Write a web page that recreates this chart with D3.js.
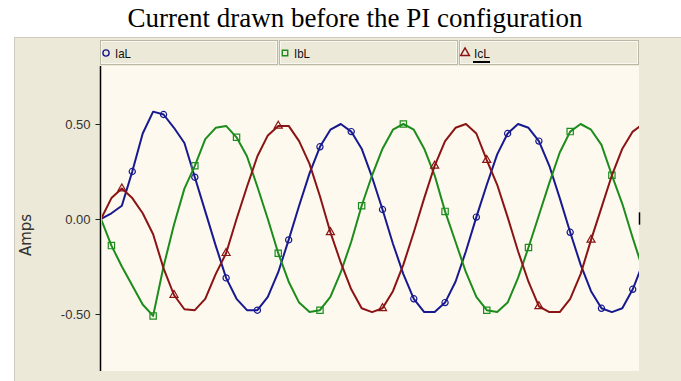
<!DOCTYPE html>
<html>
<head>
<meta charset="utf-8">
<script src="https://cdn.jsdelivr.net/npm/d3@7"></script>
<style>
  body { margin: 0; background: #ffffff; }
  svg { display: block; }
</style>
</head>
<body>
<svg id="chart" width="681" height="381"></svg>
<script>
// Phase currents, one value per sample (Amps)
const seriesNames = ["IaL", "IbL", "IcL"];
const iaL = [0, 0.03, 0.07, 0.25, 0.45, 0.565, 0.55, 0.48, 0.40, 0.22,
             0.04, -0.14, -0.31, -0.42, -0.48, -0.48, -0.41, -0.28, -0.11, 0.07,
             0.24, 0.38, 0.47, 0.50, 0.46, 0.37, 0.22, 0.05, -0.13, -0.29,
             -0.42, -0.49, -0.49, -0.44, -0.33, -0.17, 0.01, 0.18, 0.34, 0.45,
             0.50, 0.48, 0.41, 0.28, 0.11, -0.07, -0.24, -0.38, -0.47, -0.49,
             -0.47, -0.37, -0.23];
const ibL = [0, -0.14, -0.25, -0.35, -0.45, -0.51, -0.25, -0.03, 0.16, 0.28,
             0.42, 0.48, 0.49, 0.43, 0.33, 0.17, 0.00, -0.18, -0.33, -0.44,
             -0.49, -0.48, -0.41, -0.28, -0.12, 0.07, 0.23, 0.37, 0.47, 0.50,
             0.47, 0.37, 0.23, 0.04, -0.12, -0.28, -0.41, -0.48, -0.49, -0.44,
             -0.31, -0.15, 0.02, 0.19, 0.35, 0.46, 0.50, 0.47, 0.39, 0.23,
             0.08, -0.10, -0.27];
const icL = [0, 0.11, 0.16, 0.11, 0.03, -0.08, -0.26, -0.40, -0.475, -0.48,
             -0.42, -0.29, -0.18, 0.00, 0.17, 0.33, 0.44, 0.49, 0.49, 0.41,
             0.29, 0.12, -0.07, -0.23, -0.37, -0.47, -0.49, -0.47, -0.38, -0.24,
             -0.07, 0.11, 0.28, 0.41, 0.48, 0.50, 0.45, 0.31, 0.18, 0.01,
             -0.17, -0.33, -0.46, -0.49, -0.49, -0.42, -0.29, -0.11, 0.06, 0.23,
             0.37, 0.46, 0.50];
const yTickValues = [-0.5, 0, 0.5];
const yTickLabels = ["-0.50", "0.00", "0.50"];
const chartTitle = "Current drawn before the PI configuration";
const yAxisTitle = "Amps";

const series = [
  { name: seriesNames[0], values: iaL, color: "#17198f", symbol: d3.symbolCircle,   size: 30, every: 3, first: 3 },
  { name: seriesNames[1], values: ibL, color: "#1c8c1c", symbol: d3.symbolSquare,   size: 40, every: 4, first: 1 },
  { name: seriesNames[2], values: icL, color: "#8a1414", symbol: d3.symbolTriangle, size: 28, every: 5, first: 2 }
];

const svg = d3.select("#chart");
const plot = { left: 101, right: 639, top: 66, bottom: 371 };

const x = d3.scaleLinear().domain([0, 51.6]).range([plot.left, plot.right]);
const y = d3.scaleLinear().domain([-0.8, 0.8]).range([371, 67]);

// Title
svg.append("text")
  .attr("x", 355).attr("y", 27)
  .attr("text-anchor", "middle")
  .attr("font-family", "'Liberation Serif', 'Times New Roman', serif")
  .attr("font-size", 27)
  .attr("fill", "#000")
  .text(chartTitle);

// Window panel
svg.append("rect")
  .attr("x", 14.5).attr("y", 37.5)
  .attr("width", 681 - 14).attr("height", 381 - 37)
  .attr("fill", "#ece9d8")
  .attr("stroke", "#cfccbf");

// Plot background
svg.append("rect")
  .attr("x", plot.left).attr("y", plot.top)
  .attr("width", plot.right - plot.left).attr("height", plot.bottom - plot.top)
  .attr("fill", "#fdf9ef");

// Legend header boxes
const legendBoxes = [
  { left: 100, right: 277 },
  { left: 279, right: 457 },
  { left: 459, right: 638 }
];
const legend = svg.append("g").attr("class", "legend");
series.forEach((s, i) => {
  const b = legendBoxes[i];
  const g = legend.append("g");
  g.append("rect")
    .attr("x", b.left + 0.5).attr("y", 40.5)
    .attr("width", b.right - b.left).attr("height", 24)
    .attr("fill", "#ece9d8").attr("stroke", "#bcb8a6");
  g.append("rect")
    .attr("x", b.left + 1.5).attr("y", 41.5)
    .attr("width", b.right - b.left - 2).attr("height", 22)
    .attr("fill", "none").attr("stroke", "#f8f7f0");
  g.append("path")
    .attr("transform", `translate(${b.left + 6},${53})`)
    .attr("d", d3.symbol().type(s.symbol).size(s.symbol === d3.symbolTriangle ? 34 : 30)())
    .attr("fill", "none")
    .attr("stroke", s.color)
    .attr("stroke-width", 1.4);
  g.append("text")
    .attr("x", b.left + 15).attr("y", 58)
    .attr("font-family", "'Liberation Sans', Arial, sans-serif")
    .attr("font-size", 13)
    .attr("textLength", 16)
    .attr("lengthAdjust", "spacingAndGlyphs")
    .attr("fill", "#111")
    .text(s.name);
  if (i === 2) {
    g.append("line")
      .attr("x1", b.left + 14).attr("x2", b.left + 31)
      .attr("y1", 62).attr("y2", 62)
      .attr("stroke", "#000").attr("stroke-width", 2);
  }
});

// Y axis
const yAxis = d3.axisLeft(y)
  .tickValues(yTickValues)
  .tickFormat((d, i) => yTickLabels[i])
  .tickSize(5)
  .tickSizeOuter(0)
  .tickPadding(5);
const ag = svg.append("g")
  .attr("transform", `translate(${plot.left - 0.5},0)`)
  .call(yAxis);
ag.select(".domain")
  .attr("d", `M0,${plot.top}V${plot.bottom}`)
  .attr("stroke", "#000").attr("stroke-width", 1.5);
ag.selectAll(".tick line").attr("stroke", "#222");
ag.selectAll(".tick text")
  .attr("font-family", "'Liberation Sans', Arial, sans-serif")
  .attr("font-size", 13)
  .attr("fill", "#333");

// Y axis title
svg.append("text")
  .attr("transform", `translate(31,235) rotate(-90)`)
  .attr("text-anchor", "middle")
  .attr("font-family", "'DejaVu Sans', Verdana, sans-serif")
  .attr("font-size", 15)
  .attr("fill", "#333")
  .text(yAxisTitle);

// Clip for traces
svg.append("defs").append("clipPath").attr("id", "plotClip")
  .append("rect")
  .attr("x", plot.left + 1).attr("y", plot.top)
  .attr("width", plot.right - plot.left - 1).attr("height", plot.bottom - plot.top);

const traces = svg.append("g").attr("clip-path", "url(#plotClip)");
const line = d3.line().x((d, i) => x(i)).y(d => y(d));

series.forEach(s => {
  const g = traces.append("g");
  g.append("path")
    .attr("d", line(s.values))
    .attr("fill", "none")
    .attr("stroke", s.color)
    .attr("stroke-width", 2)
    .attr("stroke-linejoin", "round");
  const marks = s.values
    .map((v, i) => ({ i, v }))
    .filter(d => d.i >= s.first && (d.i - s.first) % s.every === 0);
  g.selectAll("path.mark")
    .data(marks)
    .join("path")
    .attr("class", "mark")
    .attr("transform", d => `translate(${x(d.i)},${y(d.v)})`)
    .attr("d", d3.symbol().type(s.symbol).size(s.size)())
    .attr("fill", "none")
    .attr("stroke", s.color)
    .attr("stroke-width", 1.2);
});

// Cursor mark on the right border
svg.append("line")
  .attr("x1", plot.right + 0.5).attr("x2", plot.right + 0.5)
  .attr("y1", y(0.035)).attr("y2", y(-0.03))
  .attr("stroke", "#000").attr("stroke-width", 1.5);
</script>
</body>
</html>
